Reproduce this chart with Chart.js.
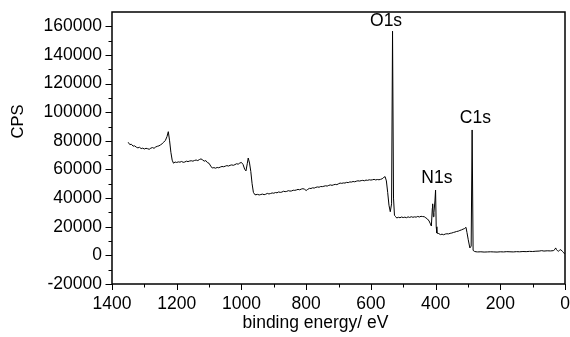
<!DOCTYPE html>
<html>
<head>
<meta charset="utf-8">
<script src="https://cdn.jsdelivr.net/npm/chart.js@4.4.1/dist/chart.umd.min.js"></script>
<style>
  html, body { margin: 0; padding: 0; background: #fff; }
  #wrap { width: 570px; height: 337px; }
</style>
</head>
<body>
<div id="wrap"><canvas id="xpsChart"></canvas></div>
<script>
// Global font settings:
Chart.defaults.font.family = '"Liberation Sans", Arial, sans-serif';
Chart.defaults.color = '#000';

// Survey spectrum: binding energy (eV) and counts per second
const bindingEnergy = [
    // high energy shoulder
    1350, 1345, 1340, 1335, 1330, 1325, 1320, 1315, 1310, 1305,
    1300, 1295, 1290, 1285, 1280, 1275, 1270, 1265, 1260, 1255,
    1250, 1245, 1240, 1235, 1230, 1226, 1222, 1218, 1214, 1210,
    // plateau and step near 980
    1205, 1200, 1195, 1190, 1185, 1180, 1175, 1170, 1165, 1160,
    1155, 1150, 1145, 1140, 1135, 1130, 1125, 1120, 1115, 1110,
    1105, 1100, 1095, 1090, 1085, 1080, 1075, 1070, 1065, 1060,
    1055, 1050, 1045, 1040, 1035, 1030, 1025, 1020, 1015, 1010,
    1005, 1000, 995, 990, 986, 982, 979, 975, 971, 967,
    // rising background
    963, 958, 950, 945, 940, 935, 930, 925, 920, 915,
    910, 905, 900, 895, 890, 885, 880, 875, 870, 865,
    860, 855, 850, 845, 840, 835, 830, 825, 820, 815,
    810, 805, 800, 795, 790, 785, 780, 775, 770, 765,
    760, 755, 750, 745, 740, 735, 730, 725, 720, 715,
    710, 705, 700, 695, 690, 685, 680, 675, 670, 665,
    660, 655, 650, 645, 640, 635, 630, 625, 620, 615,
    610, 605, 600, 595, 590, 585, 580, 575, 570, 565,
    // O1s and N1s
    560, 556, 552, 548, 544, 540, 536, 533, 530, 527,
    524, 520, 515, 510, 505, 500, 495, 490,
    485, 480, 475, 470, 465, 460, 455, 450, 445, 440,
    435, 430, 425, 420, 416, 413, 410, 409, 407, 405,
    402, 400, 398, 396,
    // C1s and low energy tail
    390, 385, 380, 375, 370, 365, 360, 355, 350, 345,
    340, 335, 330, 325, 320, 315, 310, 306, 303, 299,
    294, 290, 287, 284, 280, 275, 270, 260,
    250, 240, 230, 220, 210, 200, 190, 180, 170, 160,
    150, 140, 130, 120, 110, 100, 90, 80, 72, 65,
    55, 45, 36, 31, 29, 26, 23, 21, 17, 13,
    8, 4, 1
];
const cps = [
    79000, 77400, 77600, 76300, 76500, 75600, 75100, 75500, 74600, 74900,
    74300, 74800, 74500, 74100, 74900, 75300, 74800, 75700, 76200, 76500,
    77200, 78000, 79100, 80300, 83000, 86400, 80000, 72000, 66500, 64400,

    65200, 64900, 65300, 65100, 65600, 65000, 65200, 65800, 65500, 65900,
    66100, 65800, 66300, 66600, 66200, 66900, 67400, 66700, 65800, 66200,
    64800, 64300, 62400, 61000, 61300, 60900, 61400, 61200, 61700, 62100,
    61900, 62300, 62700, 62400, 62900, 63200, 62900, 63400, 64000, 63700,
    64500, 64900, 63500, 60200, 59000, 64000, 68000, 64500, 58600, 50000,

    44000, 42300, 42600, 42200, 42500, 42800, 42400, 42700, 43300, 42900,
    43200, 43600, 43400, 43900, 43700, 44300, 44000, 44200, 44800, 44500,
    44700, 45200, 44900, 45000, 45500, 45400, 45700, 46100, 45800, 46300,
    46600, 46200, 45300, 46100, 46800, 46700, 47200, 47000, 47500, 47800,
    47600, 48100, 48000, 48300, 48600, 48400, 48900, 49200, 48900, 49300,
    49600, 49400, 50000, 50500, 50300, 50600, 50500, 51000, 50800, 51300,
    51200, 51600, 51400, 51800, 52100, 51900, 52200, 52400, 52100, 52600,
    52400, 52800, 52600, 52800, 53100, 52700, 53000, 52800, 53100, 53500,

    54500, 55000, 52000, 44000, 35000, 30500, 36000, 156600, 40000, 28000,
    27200, 26100, 26600, 26300, 26800, 26400, 26700, 26300,
    26900, 26500, 27000, 26600, 26900, 26700, 27200, 26800, 27300, 27100,
    27000, 26200, 25400, 24000, 22000, 20500, 33000, 36000, 27000, 30000,
    38000, 45600, 20000, 15600,

    15200, 14500, 14800, 14400, 14900, 15100, 15000, 15400, 15600, 16000,
    16300, 16700, 16900, 17400, 17800, 18300, 18800, 19600, 16000, 10900,
    5200, 6500, 87600, 3500, 2800, 2500, 2400, 2500,
    2300, 2400, 2500, 2400, 2300, 2500, 2400, 2600, 2500, 2400,
    2600, 2500, 2700, 2600, 2800, 2700, 2900, 3000, 3300, 3000,
    3200, 3100, 3300, 4200, 5200, 4000, 3200, 2800, 3500, 4000,
    2800, 1800, 1000
];

// Tick labels
const xTickValues = [1400, 1200, 1000, 800, 600, 400, 200, 0];
const yTickValues = [-20000, 0, 20000, 40000, 60000, 80000, 100000, 120000, 140000, 160000];

// Peak names and where their labels sit (in data units)
const peakNames = ['O1s', 'N1s', 'C1s'];
const peakLabelEnergy = [553, 396, 277];
const peakLabelCps = [163700, 54200, 95800];

const FONT = '"Liberation Sans", Arial, sans-serif';

// draws the box, the outward ticks, the axis titles and the peak names
const framePlugin = {
    id: 'framePlugin',
    afterDraw(chart) {
        const { ctx, chartArea: { left, right, top, bottom }, scales: { x, y } } = chart;
        ctx.save();
        ctx.strokeStyle = '#000';
        ctx.lineWidth = 1.5;
        ctx.strokeRect(left, top, right - left, bottom - top);

        ctx.lineWidth = 1;
        ctx.beginPath();
        for (let v = 0; v <= 1400; v += 100) {
            const px = Math.round(x.getPixelForValue(v)) + 0.5;
            const len = v % 200 === 0 ? 6 : 3.5;
            ctx.moveTo(px, bottom);
            ctx.lineTo(px, bottom + len);
        }
        for (let v = -20000; v <= 160000; v += 10000) {
            const py = Math.round(y.getPixelForValue(v)) + 0.5;
            const len = v % 20000 === 0 ? 6.5 : 3.5;
            ctx.moveTo(left, py);
            ctx.lineTo(left - len, py);
        }
        ctx.stroke();

        ctx.fillStyle = '#000';
        ctx.textAlign = 'center';
        ctx.textBaseline = 'middle';
        ctx.font = '17.5px ' + FONT;
        peakNames.forEach((name, i) => {
            ctx.fillText(name, x.getPixelForValue(peakLabelEnergy[i]), y.getPixelForValue(peakLabelCps[i]));
        });

        // axis titles
        ctx.fillText('binding energy/ eV', left + 203.5, bottom + 39.5);
        ctx.translate(18.5, top + 109.5);
        ctx.rotate(-Math.PI / 2);
        ctx.font = '16.5px ' + FONT;
        ctx.fillText('CPS', 0, 0);
        ctx.restore();
    }
};

new Chart(document.getElementById('xpsChart'), {
    type: 'line',
    data: {
        datasets: [{
            data: bindingEnergy.map((e, i) => ({ x: e, y: cps[i] })),
            borderColor: '#000',
            borderWidth: 1,
            pointRadius: 0,
            tension: 0,
            fill: false
        }]
    },
    options: {
        responsive: true,
        maintainAspectRatio: false,
        animation: false,
        layout: { padding: { top: 12, right: 5, left: 0, bottom: 0 } },
        plugins: {
            legend: { display: false },
            tooltip: { enabled: false }
        },
        scales: {
            x: {
                type: 'linear',
                reverse: true,
                min: 0,
                max: 1400,
                grid: { display: false, drawTicks: false },
                border: { display: false },
                afterBuildTicks: (scale) => { scale.ticks = xTickValues.map(v => ({ value: v })); },
                afterFit: (scale) => {
                    scale.height = 53;
                    scale.paddingLeft = 0;
                    scale.paddingRight = 0;
                },
                ticks: {
                    maxRotation: 0,
                    autoSkip: false,
                    padding: 10,
                    font: { size: 17.5 },
                    callback: (v) => String(v)
                }
            },
            y: {
                min: -20000,
                max: 170000,
                grid: { display: false, drawTicks: false },
                border: { display: false },
                afterBuildTicks: (scale) => { scale.ticks = yTickValues.map(v => ({ value: v })); },
                afterFit: (scale) => {
                    scale.width = 112;
                    scale.paddingTop = 0;
                    scale.paddingBottom = 0;
                },
                ticks: {
                    autoSkip: false,
                    padding: 10,
                    font: { size: 17.5 },
                    callback: (v) => String(v)
                }
            }
        }
    },
    plugins: [framePlugin]
});
</script>
</body>
</html>
